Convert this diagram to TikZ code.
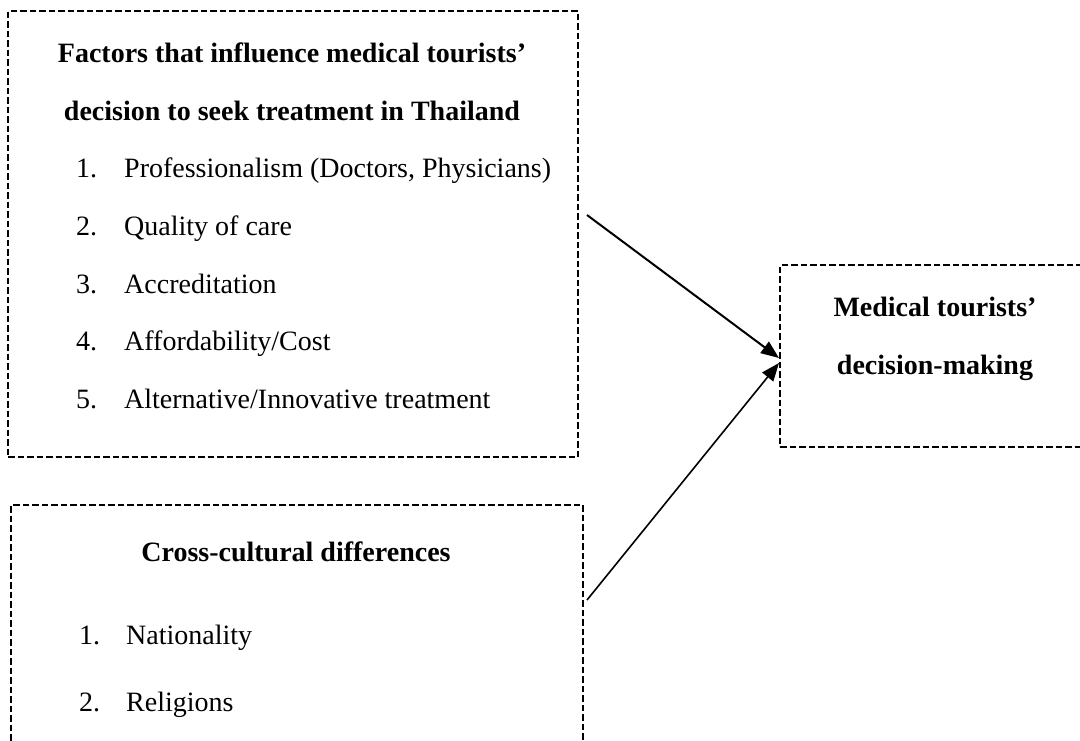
\documentclass[tikz,border=0pt]{standalone}
\usepackage{fontspec}
\setmainfont{Liberation Serif}
\usetikzlibrary{arrows.meta}
\begin{document}
\begin{tikzpicture}[x=1pt,y=-1pt,
  frame/.style={draw, line width=2pt, dash pattern=on 6.5pt off 3pt,
                inner sep=0pt, anchor=north west},
  head/.style={font=\fontsize{28}{34}\selectfont\bfseries, anchor=base, inner sep=0pt},
  num/.style={font=\fontsize{28}{34}\selectfont, anchor=base west, inner sep=0pt},
  entry/.style={font=\fontsize{28}{34}\selectfont, anchor=base west, inner sep=0pt},
  link/.style={-{Triangle[length=18pt,width=14pt]}, line width=2pt}]
\useasboundingbox (0,0) rectangle (1080,740);
\fill[white] (0,0) rectangle (1080,740);

% factors box
\node[frame, minimum width=570pt, minimum height=446pt] (factors) at (7,10) {};
\node[head] (fh1) at (292,62) {Factors that influence medical tourists’};
\node[head] (fh2) at (292,120) {decision to seek treatment in Thailand};
\node[num] (fn1) at (76,177) {1.};
\node[entry] (fi1) at (124,177) {Professionalism (Doctors, Physicians)};
\node[num] (fn2) at (76,235) {2.};
\node[entry] (fi2) at (124,235) {Quality of care};
\node[num] (fn3) at (76,293) {3.};
\node[entry] (fi3) at (124,293) {Accreditation};
\node[num] (fn4) at (76,350) {4.};
\node[entry] (fi4) at (124,350) {Affordability/Cost};
\node[num] (fn5) at (76,408) {5.};
\node[entry] (fi5) at (124,408) {Alternative/Innovative treatment};

% cross-cultural box (runs past the lower edge)
\node[frame, minimum width=572pt, minimum height=280pt] (culture) at (10,504) {};
\node[head] (ch) at (296,561) {Cross-cultural differences};
\node[num] (cn1) at (79,644) {1.};
\node[entry] (ci1) at (126,644) {Nationality};
\node[num] (cn2) at (79,711) {2.};
\node[entry] (ci2) at (126,711) {Religions};

% decision box (runs past the right edge)
\node[frame, minimum width=312pt, minimum height=182pt] (decision) at (779,264) {};
\node[head] (dh1) at (935,316) {Medical tourists’};
\node[head] (dh2) at (935,374) {decision-making};

% connectors
\coordinate (fromF) at (587,215);
\coordinate (fromC) at (587,600);
\draw[link] (fromF) -- ([yshift=-2pt]decision.west);
\draw[link, line width=1.6pt] (fromC) -- ([yshift=-7pt]decision.west);
\end{tikzpicture}
\end{document}
